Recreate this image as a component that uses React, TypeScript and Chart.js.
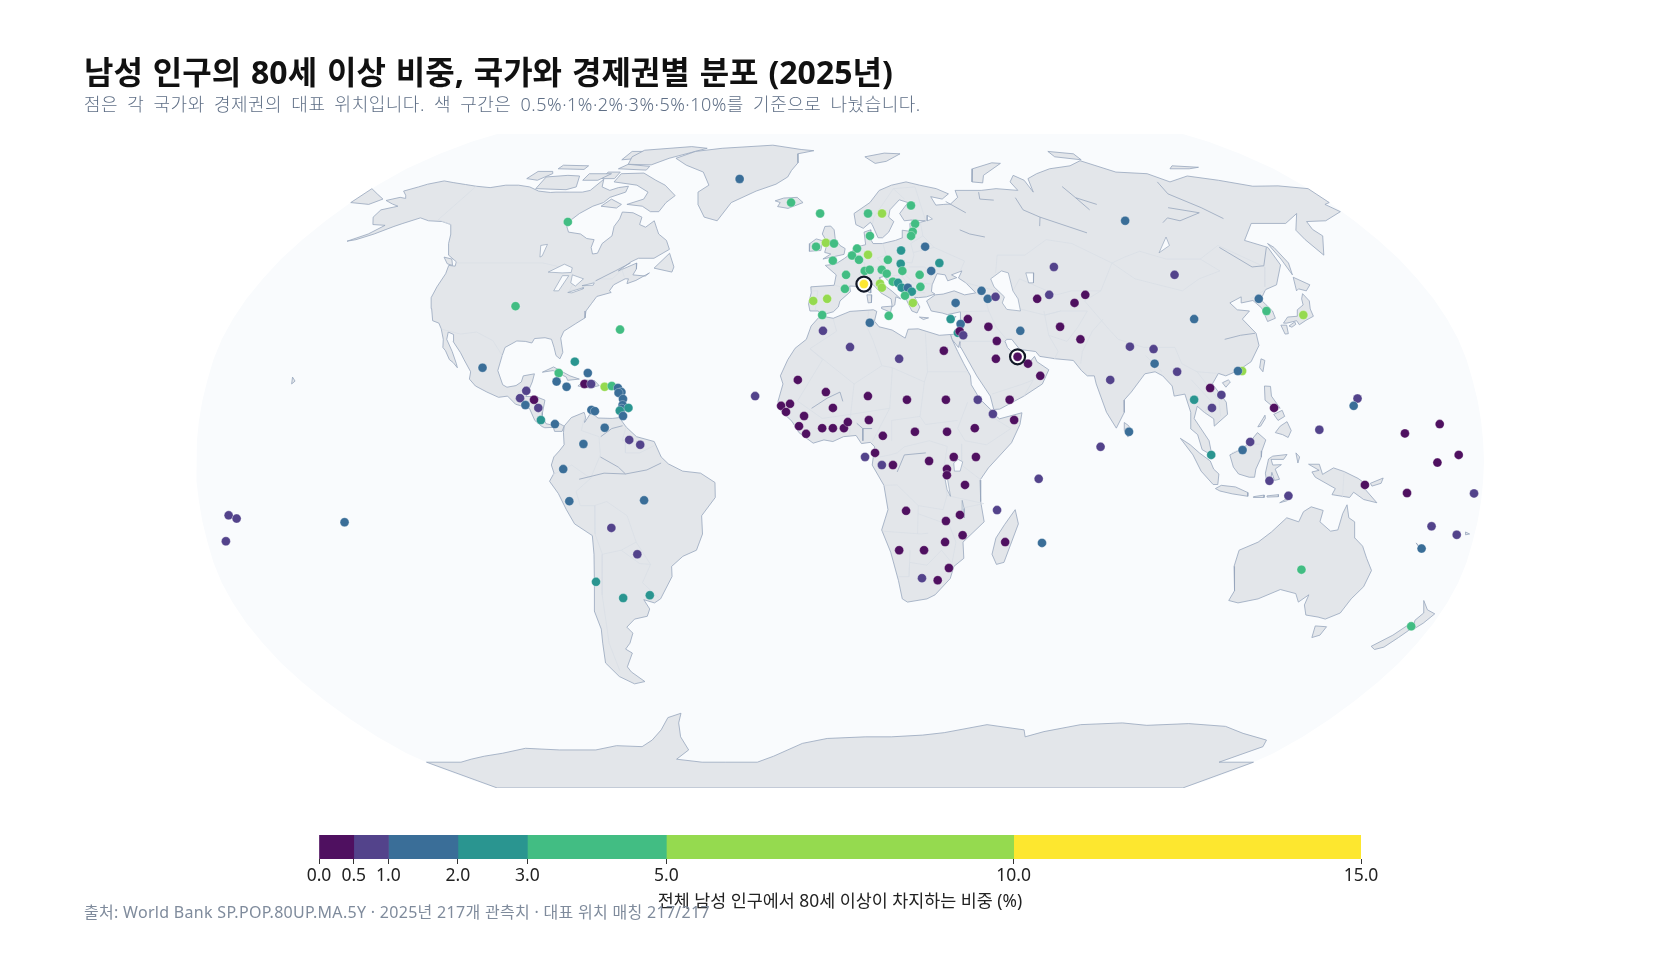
import { useEffect, useRef } from 'react';
import { Chart, registerables } from 'chart.js';

Chart.register(...registerables);

const FONT = '"Noto Sans", "Noto Sans CJK KR", sans-serif';

const BIN_EDGES = [0, 0.5, 1, 2, 3, 5, 10, 15];
const BIN_COLORS = ['#4f1060', '#53438b', '#3a6e98', '#2a9590', '#42bd83', '#95da4f', '#fde72f'];
const TICK_VALUES = [0, 0.5, 1, 2, 3, 5, 10, 15];

type Site = [string, number, number, number];

// name, lon, lat, share of men aged 80+ (%)
const AMERICAS: Site[] = [
  ['Canada', -95, 59.7, 3.6], ['United States', -97.6, 38.2, 3.2], ['Bermuda', -64.6, 32.4, 4.1],
  ['Greenland', -40, 71.9, 1.2], ['Mexico', -102.3, 23, 1.3], ['Bahamas', -76.1, 24.5, 2.1],
  ['Cuba', -80.3, 21.7, 3.3], ['Turks and Caicos', -72, 21.7, 1.4], ['Cayman Islands', -80.6, 19.6, 1.6],
  ['Jamaica', -77.6, 18.3, 1.9], ['Haiti', -72.6, 19, 0.4], ['Dominican Republic', -70.7, 19, 0.9],
  ['Puerto Rico', -66.8, 18.3, 5.2], ['US Virgin Islands', -64.8, 18.5, 4.2], ['St Martin', -63, 18, 1.6],
  ['Antigua', -61.9, 17, 1.5], ['St Kitts', -62.7, 16.8, 1.4], ['Dominica', -61.3, 15.3, 1.8],
  ['St Lucia', -61.3, 13.8, 1.6], ['St Vincent', -61.5, 12.9, 1.3], ['Barbados', -59.6, 13.1, 2.2],
  ['Grenada', -62, 12.4, 2.1], ['Trinidad', -61, 11.1, 1.5], ['Curacao', -70, 12.6, 1.9],
  ['Aruba', -69, 12.3, 1.9], ['Venezuela', -66, 8.2, 1.1], ['Guyana', -59, 5.2, 0.7],
  ['Suriname', -55.9, 4, 0.8], ['Colombia', -71.8, 4.2, 1.5], ['Ecuador', -77.4, -2, 1.6],
  ['Panama', -80, 9.1, 1.7], ['Costa Rica', -84, 10.1, 2.2], ['Nicaragua', -85, 13.1, 0.9],
  ['Honduras', -86.4, 15.1, 0.45], ['Belize', -88.9, 17.3, 0.7], ['Guatemala', -90.4, 15.5, 0.8],
  ['El Salvador', -88.7, 13.8, 1.3], ['Peru', -76, -9.9, 1.7], ['Brazil', -55, -9.7, 1.6],
  ['Bolivia', -64.7, -16.5, 0.9], ['Paraguay', -58, -23, 0.9], ['Chile', -71, -29.8, 2.4],
  ['Argentina', -64, -33.8, 2.1], ['Uruguay', -56, -33.1, 2.6],
];

const EUROPE: Site[] = [
  ['Iceland', -18, 65, 3.4], ['Faroe Islands', -7.1, 62, 4.2], ['Norway', 10, 62, 4.1],
  ['Sweden', 15, 62, 5.6], ['Finland', 25.9, 64.2, 4.6], ['Estonia', 26.1, 59.2, 3.4],
  ['Latvia', 24.8, 57.1, 3.1], ['Lithuania', 24, 56, 3.2], ['Denmark', 10.1, 56, 4.4],
  ['Isle of Man', -4.7, 54.2, 5.4], ['United Kingdom', -2, 54, 4.6], ['Ireland', -7.9, 53.2, 3.5],
  ['Netherlands', 5.6, 52.7, 4.6], ['Belgium', 3.9, 50.9, 4.6], ['Germany', 9.1, 51.1, 5.8],
  ['Luxembourg', 6.1, 49.8, 3.6], ['Channel Islands', -2.3, 49.6, 4.4], ['Poland', 20, 52.2, 2.5],
  ['Belarus', 28.1, 53.2, 1.7], ['Czechia', 15.4, 49.8, 3.4], ['Slovakia', 19.4, 48.8, 2.3],
  ['Hungary', 19.7, 47, 3.1], ['Ukraine', 31.8, 49, 2.2], ['Moldova', 28.8, 47, 1.5],
  ['Austria', 13.2, 47.3, 4.8], ['Liechtenstein', 7.8, 47, 4.2], ['Switzerland', 9.4, 47.3, 4.9],
  ['Slovenia', 14.7, 46.3, 3.8], ['France', 1.9, 46, 4.9], ['Croatia', 16.4, 44.3, 3.3],
  ['Bosnia and Herzegovina', 18, 44, 2.6], ['Romania', 25, 46, 3.1], ['Bulgaria', 24.8, 43, 3.2],
  ['Andorra', 1.5, 42.5, 4.4], ['San Marino', 12.4, 43.8, 6.2], ['Italy', 12.9, 42.8, 6.1],
  ['Montenegro', 19, 42.8, 2.4], ['Kosovo', 20.9, 42.8, 1.6], ['North Macedonia', 22, 41.8, 2.2],
  ['Albania', 19.8, 40.8, 3.2], ['Greece', 22, 39, 5.9], ['Portugal', -8.1, 39.5, 5.7],
  ['Spain', -3.9, 40, 5.6], ['Gibraltar', -5.3, 36, 3.6], ['Malta', 14.5, 35.8, 4.1],
  ['Georgia', 43.4, 42, 1.7], ['Armenia', 44.8, 40, 1.6], ['Azerbaijan', 47.3, 40.5, 0.9],
  ['Turkiye', 34.9, 39, 1.4], ['Cyprus', 32.8, 35, 2.3], ['Russia', 99.8, 60, 1.4],
];

const AFRICA: Site[] = [
  ['Morocco', -5, 32.1, 0.9], ['Tunisia', 8.8, 34.1, 1.3], ['Algeria', 2.9, 28.1, 0.8], ['Libya', 17, 25.2, 0.8],
  ['Egypt', 30, 27.2, 0.3], ['Mauritania', -12, 20, 0.3], ['Mali', -4, 17, 0.2],
  ['Niger', 7.9, 16, 0.2], ['Chad', 18.9, 15.1, 0.2], ['Sudan', 29.9, 15.1, 0.3], ['Eritrea', 38.9, 15.1, 0.6],
  ['Djibouti', 43, 11.6, 0.6], ['Somalia', 48.9, 10.1, 0.2], ['Cabo Verde', -24, 16, 0.8],
  ['Gambia', -16.6, 13.6, 0.2], ['Senegal', -14.1, 14.1, 0.3], ['Guinea-Bissau', -15.2, 12.1, 0.2],
  ['Guinea', -10.1, 11.1, 0.2], ['Sierra Leone', -11.5, 8.6, 0.2], ['Liberia', -9.5, 6.7, 0.2],
  ['Cote dIvoire', -5, 8.1, 0.2], ['Ghana', -2, 8.1, 0.3], ['Togo', 1.1, 8.1, 0.2], ['Benin', 2.2, 9.6, 0.2],
  ['Burkina Faso', -2, 13.1, 0.2], ['Nigeria', 8.1, 10.1, 0.2], ['Cameroon', 12, 6.2, 0.2],
  ['Equatorial Guinea', 9.8, 2, 0.3], ['Sao Tome', 7, 1, 0.6], ['Gabon', 11.7, -1, 0.7],
  ['Congo', 14.8, -1, 0.3], ['Central African Republic', 21, 7.2, 0.2], ['South Sudan', 30, 7.2, 0.2],
  ['Ethiopia', 37.8, 8.1, 0.3], ['DR Congo', 24.9, 0, 0.2], ['Uganda', 31.8, 1, 0.2], ['Kenya', 38, 1, 0.3],
  ['Rwanda', 29.9, -2, 0.3], ['Burundi', 29.9, -3.5, 0.2], ['Tanzania', 35, -5.9, 0.3], ['Angola', 18.6, -12.3, 0.2],
  ['Malawi', 33.8, -13.3, 0.2], ['Zambia', 29.9, -14.8, 0.2], ['Mozambique', 34.8, -18.3, 0.2],
  ['Zimbabwe', 29.9, -20, 0.3], ['Botswana', 24, -22, 0.3], ['Namibia', 16.9, -22, 0.3], ['Eswatini', 31.4, -26.4, 0.2],
  ['South Africa', 23.8, -28.9, 0.7], ['Lesotho', 28.4, -29.4, 0.3], ['Madagascar', 47, -20, 0.3],
  ['Comoros', 44.2, -12.1, 0.7], ['Seychelles', 55.6, -4.4, 0.9], ['Mauritius', 57.5, -20.2, 1.3],
];

const ASIA: Site[] = [
  ['Syria', 37.9, 35, 0.4], ['Lebanon', 35.6, 33.8, 1.6], ['Israel', 34.5, 31.6, 2.7], ['West Bank', 35.1, 32, 0.4],
  ['Jordan', 36, 31, 0.7], ['Iraq', 43.7, 33.1, 0.4], ['Iran', 52.9, 32.1, 1.3], ['Kuwait', 45.6, 29.6, 0.3],
  ['Saudi Arabia', 44.8, 25.2, 0.4], ['Bahrain', 51.2, 26, 0.3], ['UAE', 53.9, 24, 0.1], ['Oman', 57.1, 21, 0.3],
  ['Yemen', 47.9, 15.1, 0.2], ['Turkmenistan', 59.8, 40, 0.4], ['Uzbekistan', 63.8, 41, 0.7],
  ['Kazakhstan', 68, 48, 0.9], ['Kyrgyzstan', 74.8, 41, 0.4], ['Tajikistan', 70.8, 39, 0.3],
  ['Afghanistan', 64.8, 33.1, 0.2], ['Pakistan', 70, 30, 0.4], ['Nepal', 84, 28.2, 0.7], ['Bhutan', 90.7, 27.6, 0.8],
  ['Bangladesh', 90.2, 24, 1.1], ['India', 76.9, 20, 0.8], ['Myanmar', 96.3, 22, 0.6], ['Laos', 105, 18, 0.4],
  ['Vietnam', 107.9, 16.3, 0.9], ['Cambodia', 104.8, 13.1, 0.7], ['Thailand', 100, 15.1, 2.2],
  ['Hong Kong', 114.9, 22.2, 5.5], ['Macao', 113.7, 22.2, 1.9], ['China', 105, 35, 1.5], ['Mongolia', 105, 46, 0.6],
  ['North Korea', 127, 40, 1.2], ['South Korea', 127.6, 37, 3.4], ['Japan', 138, 36, 7.1],
  ['Philippines', 122.3, 13.1, 0.4], ['Brunei', 114.8, 4.7, 0.8], ['Malaysia', 112.6, 2.7, 1.1], ['Singapore', 103.8, 1.5, 2.5],
  ['Indonesia', 120.2, -4.9, 0.7], ['Timor-Leste', 125.8, -8.6, 0.8], ['Sri Lanka', 81, 7.2, 1.4], ['Maldives', 72.9, 3.5, 0.8],
];

const OCEANIA: Site[] = [
  ['Australia', 133.2, -26.8, 4.2], ['New Zealand', 174, -40.8, 3.6], ['Papua New Guinea', 147, -5.9, 0.2],
  ['Palau', 134.4, 7.7, 0.9], ['Northern Mariana', 146.2, 15.4, 0.8], ['Guam', 144.8, 13.6, 1.3],
  ['Micronesia', 158.3, 6.8, 0.4], ['Marshall Islands', 168.3, 9.1, 0.2], ['Kiribati', 173, 1.5, 0.3],
  ['Nauru', 167, -0.4, 0.2], ['Solomon Islands', 159, -7.9, 0.3], ['Tuvalu', 177.8, -8, 0.8],
  ['Vanuatu', 167.3, -16.1, 0.6], ['Fiji', 175, -18.2, 0.7], ['New Caledonia', 166, -21.6, 1.6],
  ['Samoa', -172.3, -13.4, 0.8], ['American Samoa', -170.2, -14.2, 0.7], ['Tonga', -174.7, -19.8, 0.8],
  ['French Polynesia', -139.9, -15.1, 1.4],
];

// sites that carry a ring: highest and lowest share
const HIGHLIGHTS: Site[] = [
  ['Monaco', 7.4, 43.7, 12.8],
  ['Qatar', 51.1, 25.7, 0.1],
];

type Ring = number[][];

const NORTH_AMERICA: Ring = [[-168.1,65.6],[-164.5,66.5],[-162,66.2],[-163.5,67.1],[-166.5,68.3],[-163,69.5],[-161,70.3],[-156.5,71.3],[-152,70.8],[-146,70.2],[-141,69.7],[-135,69.3],[-130,70],[-125,70],[-120,69.5],[-115,68.3],[-110,67.9],[-108,68],[-103,68],[-98,68],[-95.5,68.5],[-94,71.8],[-92,69.5],[-88,68.5],[-85.5,69.3],[-82,69.7],[-81.5,68],[-86,66.5],[-87,65],[-90,64],[-93,62],[-94.5,60],[-94.7,58.8],[-92.5,57],[-88,56.5],[-85,55.3],[-82.3,55],[-82,53],[-80.5,51.3],[-79,51.5],[-79,54],[-77,56],[-78,58.5],[-77.5,60.5],[-78,62.4],[-74,62.2],[-70,61],[-69.5,59],[-67,58.3],[-65,60],[-63,58],[-61.5,56.5],[-58,54.8],[-56,52.5],[-60,50.2],[-65,50.2],[-67,49.3],[-70,47],[-65,49],[-64.5,47.5],[-65,46],[-61,45.7],[-60,46.5],[-63.5,44.6],[-66,43.8],[-66,45],[-67,45],[-70,43.5],[-70.7,42],[-70,41.6],[-74,40.6],[-75,38.8],[-76,37],[-75.7,35.3],[-78,33.9],[-81,32],[-81.4,30.3],[-80,26.8],[-80.5,25.2],[-81.8,26],[-82.8,28],[-84,30],[-86,30.4],[-89,30.2],[-89.5,29.1],[-91.5,29.5],[-94,29.6],[-97,28],[-97.3,26],[-97.8,22.3],[-95.8,18.8],[-94.5,18.2],[-92,18.6],[-90.6,19.5],[-90.3,21],[-87.2,21.5],[-87.5,19.5],[-88.2,17.5],[-88.8,15.9],[-86,15.9],[-83.3,15],[-83.7,12],[-83.7,11],[-82.5,9.2],[-81,8.9],[-79.5,9.6],[-77.4,8.6],[-77.9,7.3],[-80,7.3],[-80.4,8.3],[-82.8,8.2],[-83.6,8.5],[-85.7,10],[-87.5,13],[-91.5,14],[-94,16],[-96.5,15.7],[-100,17],[-103.5,18.5],[-105.5,20.2],[-105.5,22],[-108,25],[-109.5,26.7],[-112.5,29.5],[-113,31.2],[-114.8,31.8],[-114.5,30],[-112,27],[-110,24],[-109.5,23],[-111,24.3],[-112.2,25],[-114,27.2],[-115,28],[-115.5,30],[-117.2,32.6],[-118.5,34],[-120.6,34.6],[-122.5,37.6],[-124.2,40.3],[-124.3,43],[-124,46.3],[-124.7,48.4],[-122.5,48.2],[-123,49.3],[-127,51],[-130,54],[-132,56.5],[-135,59],[-139,59.8],[-144,60],[-148,60.8],[-152,59.3],[-154,58.5],[-158,56.5],[-162,55],[-164.5,54.6],[-160,56.5],[-157.5,58.8],[-162,59],[-165,61],[-165.5,63],[-161,64],[-164,64.6],[-168.1,65.6]];
const SOUTH_AMERICA: Ring = [[-77.4,8.6],[-75.5,10.7],[-72,12],[-71.5,10.8],[-71.7,9.5],[-70,12],[-68,10.6],[-64,10.5],[-62,10.7],[-60,8.4],[-57,6],[-52,4.8],[-50,1],[-48,-0.7],[-44,-2.5],[-39,-3],[-35,-5.3],[-35,-9],[-39,-13.5],[-39,-18],[-41,-22],[-45,-23.5],[-48.5,-26],[-48.7,-28.5],[-53,-34],[-55,-35],[-58,-34.2],[-56.8,-36.5],[-58,-38.3],[-62,-39],[-65,-41],[-63.7,-42.5],[-65.5,-45],[-67.5,-46.5],[-65.8,-47.5],[-69,-51],[-68.4,-52.3],[-65.2,-54.8],[-69,-55.4],[-73,-53.5],[-75.5,-50],[-74,-45],[-73,-41.5],[-73.5,-37],[-71.5,-30],[-70.4,-23],[-70.3,-18.4],[-75,-15.5],[-77,-12],[-79,-8],[-81.3,-5],[-80,-3],[-80.7,-1],[-80,1],[-78.5,2.5],[-77.2,4],[-77.5,7],[-77.4,8.6]];
const AFRICA_LAND: Ring = [[-5.9,35.8],[-2,35.2],[3,36.9],[10,37.3],[11,36.9],[10.2,34.5],[11.5,33.1],[15.3,32.3],[19,30.3],[20,32.5],[23,32.6],[29,31],[32.3,31.2],[32.6,30],[34,27],[35.5,24],[37.2,21],[37.3,18.8],[39.5,15.3],[43.2,12],[43.3,11.5],[44.8,10.4],[51.2,11.9],[50.5,9],[48,4.5],[41.5,-1.7],[39.2,-4.7],[39.5,-10],[40.7,-15],[35,-20],[35.5,-24],[32.8,-26],[32,-29],[28,-33],[25.7,-34],[20,-34.8],[18.4,-34],[17,-29.5],[14.5,-22.5],[11.8,-17],[13.5,-12],[12.3,-6],[9,-1],[9.7,3.5],[8.5,4.6],[6,4.3],[4.5,6.3],[1,6],[-2,4.8],[-4.5,5.2],[-7.5,4.4],[-11.5,7],[-13.5,9.8],[-16.8,12.5],[-17.5,14.7],[-16.2,19],[-17,21],[-15,25],[-13,27.8],[-9.8,30],[-8.5,33.3],[-6.2,35.5],[-5.9,35.8]];
const EURASIA: Ring = [[-9,43],[-1.8,43.4],[-1.2,46],[-4.7,48.4],[-1.5,48.7],[1.5,50.2],[3.5,51.4],[4.8,53],[8.5,53.7],[8.2,57],[10.5,57.6],[10.3,55],[11,54],[14,54],[18.5,54.8],[21,55.5],[21.3,57.5],[24,57.2],[24.3,59.3],[28,59.6],[30,60],[25,60.2],[22.5,60],[21.3,62],[25,65],[22,65.8],[18,63],[17.2,61],[18.8,59.8],[16.6,57],[14.3,55.5],[12.8,55.5],[11.2,58.9],[10.6,59.6],[8,58],[5.5,59],[5,62],[11,65],[15,68.5],[20,70],[26,71],[31,70],[37,69],[41,67.5],[38,66],[34,66.7],[35,64.3],[38,64.5],[40.5,64.6],[44,66.5],[44,68.5],[54,68.5],[60,69],[68,68.5],[67,71],[70,73],[73,71.5],[73.5,68],[75,72],[80,73.5],[87,75],[97,76],[104,77.7],[113,74],[125,73.5],[130,71],[140,72.8],[150,71.5],[160,69.7],[170,69.8],[180,69],[180,65],[177.5,64.5],[179.5,62.5],[170,60],[163,59.8],[162,57.7],[163,56],[157,51],[155.7,55],[156,57.5],[163,62],[155,59.3],[143,59.3],[135.2,54.8],[141,53],[140.5,48.5],[135,43.5],[130.7,42.3],[127.5,39.8],[129.4,37],[129.2,35.2],[126.5,34.4],[126.6,37.7],[125,39.6],[121.2,39],[122,40.5],[117.7,39],[119,37.3],[122.5,37],[119.3,35],[121.8,31.5],[121.5,28.5],[118,24.5],[113.8,22.3],[110,21],[108,21.6],[105.8,19],[109,14.5],[109,11.5],[105,8.6],[105,10.4],[102.5,12],[100.7,13.5],[99.5,10.5],[103.3,5],[104,1.4],[101.3,2.8],[100.2,6.5],[98.3,8],[98.7,12],[97.6,16.5],[94.5,16],[94.3,18.5],[92,21],[90,22],[87,21.5],[82.5,17],[80.2,15],[80,12],[77.5,8.1],[75,12],[72.8,19],[72.5,21],[70.5,21],[69,22.3],[67,24.8],[62,25.2],[57.5,25.8],[56.5,27],[52,27.5],[50,30],[48.5,30],[48,29.5],[48.5,28],[50,26.5],[51.5,25.7],[51.3,24.6],[54,24],[56,25.8],[56.5,24.5],[59.7,22.5],[57.5,19],[52,16],[45,12.8],[43.3,12.7],[42.5,16],[39,21],[35,28],[34.9,29.5],[34.3,28],[32.6,30],[32.3,31.2],[34.3,31.3],[35.8,35],[36,36.8],[32,36.1],[30.5,36.5],[27.3,37],[26.2,39.5],[29,41],[31.5,41.2],[35,42],[38,41],[41.5,41.5],[39,44],[37,45.2],[38.5,47],[35,46],[36.5,45.3],[33.5,44.5],[33,46],[30.5,46.3],[28.5,43.5],[28,41.8],[29,41.2],[26.3,40.5],[23.8,40.3],[22.7,40.4],[24,38],[23,36.5],[21.5,37],[19.5,41],[19,42],[15,44.5],[13.7,45.6],[12.3,45.3],[12.4,44.2],[16,41.9],[18.4,40],[17,40.5],[16.5,38.5],[15.7,38],[15.5,40],[12.5,41.5],[10.3,43.5],[8.8,44.4],[6,43.1],[3,43.2],[3.2,41.8],[0,39.5],[-0.5,38],[-2,36.8],[-5.5,36],[-6.5,37],[-9,37],[-9.5,38.8],[-8.8,41.5],[-9,43]];
const GREENLAND: Ring = [[-72,78.5],[-66,81],[-55,82.3],[-32,83.6],[-18,81.8],[-12,81.3],[-19,80],[-18,77],[-20,74.5],[-21,72.5],[-25,70.3],[-32,68.3],[-40,65],[-43,60],[-48,61],[-52,64.5],[-54,68],[-51,70],[-56,74],[-65,76.2],[-72,78.5]];
const AUSTRALIA: Ring = [[114,-22],[113.5,-26],[115.7,-32],[115,-34.4],[118,-35],[123.5,-34],[129,-31.7],[134,-32.7],[135.8,-34.8],[138,-33],[138,-35.5],[140,-38],[144,-38.5],[146.5,-39],[150,-37.5],[151,-34],[153,-31],[153.5,-27],[151,-24],[149,-21],[146.3,-19],[145.3,-15],[143.5,-14],[142.5,-10.8],[141.6,-13],[141,-17],[139,-17.3],[135.5,-15],[136,-12.2],[132.5,-11.3],[130.5,-12.5],[129.5,-15],[126,-14],[122.3,-17.5],[119,-20],[114,-22]];
const ANTARCTICA: Ring = [[-180,-78],[-165,-78],[-158,-77],[-150,-76],[-140,-75],[-128,-73.5],[-115,-74],[-100,-74],[-90,-72.7],[-80,-73],[-74,-71],[-68,-68],[-63,-64.5],[-57.5,-63.3],[-60,-66],[-62,-70],[-62,-74],[-70,-77],[-60,-78],[-50,-78],[-36,-78],[-28,-76],[-15,-72],[-5,-70.5],[10,-70],[20,-70],[32,-69.5],[40,-68.8],[55,-66.5],[70,-68],[72,-70],[78,-68.5],[90,-66.5],[105,-66],[115,-66.7],[130,-66.2],[145,-67],[155,-69],[168,-71],[171,-73],[165,-78],[180,-78],[180,-90],[-180,-90],[-180,-78]];

const ISLANDS: Ring[] = [
  [[-73,71.5],[-68,70],[-62,67],[-64,65],[-65,62.5],[-68,62.5],[-72,64],[-78,64.5],[-73,66],[-73,68],[-79,70],[-89,71],[-89,73.5],[-80,73.7],[-73,71.5]],
  [[-117,69],[-105,68.7],[-102,69.5],[-105,72.8],[-110,73],[-118,72.5],[-117,69]],
  [[-125,72],[-120,71.5],[-117,73.5],[-118,74.2],[-124,74.2],[-125,72]],
  [[-90,76.5],[-80,76.3],[-75,78.5],[-62,82.3],[-70,83],[-90,81.5],[-92,79],[-90,76.5]],
  [[-92,75],[-80,74.6],[-80,75.8],[-90,76.5],[-92,75]],
  [[-117,75],[-106,74.8],[-106,76],[-117,76.2],[-117,75]],
  [[-95,78],[-88,78.5],[-88,81],[-95,81],[-95,78]],
  [[-102,71.5],[-96,71.5],[-93,73.5],[-102,73.5],[-102,71.5]],
  [[-95,72],[-90,72],[-90,74],[-95,74],[-95,72]],
  [[-87,64],[-81,63.5],[-80,64.5],[-85,66],[-87,64]],
  [[-59,47.7],[-53,46.7],[-52.8,48],[-55.5,51.5],[-59,47.7]],
  [[-128,50.5],[-125,50],[-123.5,48.4],[-125.5,48.8],[-128,50.5]],
  [[-85,21.9],[-82,23.2],[-77,21],[-74.2,20.2],[-77.5,19.9],[-78,20.7],[-82,22.3],[-85,21.9]],
  [[-74.4,18.5],[-72.7,20],[-69.8,19.8],[-68.4,18.6],[-71,18],[-74.4,18.5]],
  [[-78.3,18.3],[-76.3,18.2],[-77,17.8],[-78.3,18.3]],
  [[-67.2,18.5],[-65.7,18.4],[-66,18],[-67.2,18]],
  [[-24,65.5],[-21,66.3],[-16,66.5],[-13.6,65],[-18.8,63.4],[-22.7,63.9],[-22,65],[-24,65.5]],
  [[-5.5,50],[1.3,51.2],[1.7,52.7],[0,53.5],[-1.6,55.2],[-2,57.6],[-3.2,58.6],[-5.2,58.5],[-6,56.5],[-4.8,55],[-3,54],[-4.5,53.3],[-5,51.7],[-3,51.3],[-5.5,50]],
  [[-10,52],[-6.3,52.2],[-6,53.5],[-5.6,54.7],[-8,55.2],[-10,54],[-10,52]],
  [[11,79],[20,80.3],[27,80],[20,77.5],[15,76.8],[11,79]],
  [[52,71],[56,70.7],[58,73],[68.5,76.8],[65,77],[55,75],[52,71]],
  [[95,79],[105,78],[105,80],[95,81],[95,79]],
  [[137,75],[145,75],[150,75.5],[140,76],[137,75]],
  [[-180,65],[-172.5,64.5],[-170,66],[-175,67.5],[-180,69],[-180,65]],
  [[142,46],[143.5,49],[143,53],[142,54],[142,50],[142,46]],
  [[140,42],[141.7,45.4],[145.3,43.5],[143,42],[141,42.5],[140,42]],
  [[131,34],[133,35.5],[136,35.7],[137,37.3],[139.5,38.5],[140,40],[141.3,41.3],[142,39.5],[141,37.5],[140.8,35.7],[138,34.7],[135.5,33.6],[135.2,34.6],[132,34],[131,34]],
  [[130,33.5],[131.7,33.5],[131.2,31.4],[130.2,31.3],[130,33.5]],
  [[132.3,33.3],[134.5,34.3],[134.5,33.7],[133,33],[132.3,33.3]],
  [[121,25.2],[122,24.8],[120.8,22],[120.1,23],[121,25.2]],
  [[108.7,19.3],[110.5,20],[111,19.5],[109.5,18.2],[108.7,19.3]],
  [[120.5,18.5],[122.2,18.4],[122,16],[124,13],[121.5,13.8],[120,15],[120.5,18.5]],
  [[122,7],[123.5,8.6],[125.5,9.7],[126.5,7.5],[125.5,5.8],[124,6.5],[122,7]],
  [[122,11.5],[123,10],[125,11],[124.5,12.5],[122,11.5]],
  [[117.2,8.4],[119.5,11.3],[119.5,10.5],[118,8.6],[117.2,8.4]],
  [[109,1.5],[111.3,2.5],[113,3.3],[115,5],[117,7],[119.2,5.2],[118,2.5],[117.8,1],[116.3,-2],[116,-4],[114.5,-4],[111.5,-3.2],[110,-1.5],[109,1.5]],
  [[95.3,5.6],[98,4],[100.5,2],[103.5,0],[104.5,-2],[106,-3.2],[105.8,-5.8],[104.5,-5.8],[101,-2.5],[98.7,1.5],[95.3,5.6]],
  [[105.2,-6.8],[106.8,-6],[110.8,-6.4],[114.4,-7.8],[114.4,-8.7],[110,-8.1],[106.5,-7.4],[105.2,-6.8]],
  [[116,-8.8],[119,-8.4],[119,-9],[116,-9],[116,-8.8]],
  [[119.8,-8.6],[123,-8.3],[123,-8.8],[120,-8.9],[119.8,-8.6]],
  [[123.5,-10.3],[127,-8.4],[125.5,-9.8],[123.5,-10.3]],
  [[119.5,-5.5],[119,-3],[119.8,0.5],[121,1.2],[125,1.6],[124,0.4],[120.5,0.4],[121,-1],[123.4,-0.9],[121.7,-2],[123,-4.5],[121.6,-4.8],[120.8,-2.8],[120.4,-5.5],[119.5,-5.5]],
  [[131,-0.8],[134,-0.8],[135,-3.3],[138,-1.7],[141,-2.6],[145,-4.3],[147.8,-6],[147.2,-7],[150.8,-10.3],[147,-9.5],[144,-7.7],[143,-9],[138,-8.3],[138.8,-6.8],[133,-4],[132,-2.7],[134,-2.3],[131,-0.8]],
  [[127.5,2],[128,-0.5],[128.5,1],[127.5,2]],
  [[148.5,-5.5],[152,-4.2],[151.5,-5.5],[149,-6.2],[148.5,-5.5]],
  [[49.3,-12],[50.4,-15.5],[47.1,-25],[45,-25.5],[43.5,-23],[44.3,-19],[46.5,-15.7],[49.3,-12]],
  [[79.8,9.5],[81,8.7],[81.9,7],[80.6,5.9],[79.8,7.5],[79.8,9.5]],
  [[144.7,-40.7],[148.3,-40.9],[148,-43],[146,-43.6],[144.7,-40.7]],
  [[172.7,-34.4],[175.5,-36.7],[178.5,-37.7],[176.9,-40],[175.3,-41.6],[173.8,-39.3],[175,-37.5],[172.7,-34.4]],
  [[172.7,-40.5],[174.3,-41.7],[172.8,-43.6],[170.7,-46],[168.4,-46.6],[166.5,-45.8],[170.5,-43],[172.7,-40.5]],
  [[164,-20.2],[167,-22.3],[166,-22],[164,-20.2]],
  [[12.5,38],[15.6,38.2],[15.1,36.7],[12.5,37.6],[12.5,38]],
  [[8.2,41],[9.7,41],[9.5,39.1],[8.5,39],[8.2,41]],
  [[8.6,42.5],[9.4,43],[9.4,41.5],[8.8,41.6],[8.6,42.5]],
  [[23.6,35.5],[26.3,35.3],[24.7,34.9],[23.6,35.5]],
  [[32.4,35],[34.5,35.7],[33.6,34.8],[32.4,35]],
  [[-156,20.7],[-155,19.7],[-155.8,19],[-156,20.7]],
  [[177.3,-17.5],[178.6,-18],[177.5,-18.2],[177.3,-17.5]],
];

const LAKES: Ring[] = [
  [[-92,46.7],[-88,48.7],[-85,47.8],[-84.7,46.6],[-87.5,46.5],[-92,46.7]],
  [[-87.8,42],[-86.3,42],[-85,45.8],[-87,45.8],[-87.8,42]],
  [[-84,46],[-80,45],[-81.7,43.2],[-83.5,44],[-84,46]],
  [[-83.3,41.6],[-79,42.8],[-79,42.5],[-82,41.5],[-83.3,41.6]],
  [[-79.7,43.3],[-76.2,44],[-76.3,43.4],[-79.7,43.3]],
  [[-99,53.5],[-97,53.8],[-96.5,50.8],[-97,50.5],[-99,53.5]],
  [[47,45],[51,47],[53,46.5],[53,42],[54,40],[54,37],[50,37.4],[49,39],[50,40.5],[47.5,43],[47,45]],
  [[58.5,46.5],[61,46.5],[60,44],[58.5,44],[58.5,46.5]],
  [[104,51.6],[109.8,55.7],[109,53.5],[104,51.6]],
  [[31.8,-0.5],[33,0.4],[34.3,-0.2],[33.6,-2.5],[32,-2.5],[31.8,-0.5]],
  [[29.2,-3.5],[30,-4],[31,-8.7],[30,-7],[29.2,-3.5]],
  [[34.3,-9.7],[34.9,-11.7],[35,-14],[34.4,-13],[34.3,-9.7]],
  [[30.5,60],[32.5,60.5],[31,61.5],[30.5,60]],
];

const BORDERS: Ring[] = [
  [[-123,49],[-95,49],[-89,48],[-84.5,46.5],[-82.5,45],[-83,42],[-79,43],[-75,45],[-71,45],[-69,47.3],[-67.5,45.5]],
  [[-141,69.7],[-141,60.3],[-135,59]],
  [[-117,32.5],[-111,31.3],[-106.5,31.8],[-101,29.7],[-97.2,25.9]],
  [[-92,14.6],[-91,17],[-89,17.8],[-88.3,18]],
  [[-71.7,11.5],[-72.5,7.5],[-67.5,6],[-67,1.5]],
  [[-67,1.5],[-69.8,-4.3],[-74,-7.5],[-73,-11],[-69,-11],[-65.5,-10],[-60,-13.5],[-58,-20],[-54.5,-25.5],[-57.5,-30],[-53.5,-33.8]],
  [[-60,5],[-60,2],[-56,2],[-52,3.8]],
  [[-80.3,-3.4],[-75,-1],[-69.8,-4.3]],
  [[-69.5,-18],[-68,-23],[-70,-33],[-72,-45],[-72,-52]],
  [[-69,-11],[-69.5,-18]],
  [[-68,-23],[-62.5,-22],[-58,-20]],
  [[-62.5,-22],[-57.6,-25.3],[-54.5,-25.5]],
  [[-60,8.4],[-61,5],[-60,5]],
  [[-8.7,27.7],[-1,32],[-2,35]],
  [[-8.7,27.7],[4,19],[12,23.5],[9.5,30],[8,33],[8.5,36.9]],
  [[12,23.5],[15,23],[24,19.5],[25,22],[25,31.5]],
  [[25,22],[36.8,22]],
  [[24,19.5],[22.5,11],[24,9],[33,10]],
  [[4,19],[3,11.5],[14,13],[15,23]],
  [[-12,14.8],[-5,25],[-8.7,27.7]],
  [[-12,14.8],[-5,10.5],[3,11.5]],
  [[3,11.5],[2.7,6.3]],
  [[14,13],[9,4.7]],
  [[14.5,5],[14.5,10],[22.5,11]],
  [[12.2,-6],[16,-5.9],[22,-11],[29,-12],[30,-8.5],[29,-2],[30,3.6],[25,5],[18,3.5],[16,2],[14,1.5],[11,1]],
  [[36,14.5],[33,8],[35,5],[41,4],[47.9,8],[42.5,11]],
  [[34,4.2],[34,-1],[39.5,-4.7]],
  [[30,-1],[34,-1]],
  [[30,-8.5],[40.4,-10.5]],
  [[40.4,-10.5],[35,-11.5],[30.5,-15],[33,-20],[32,-26.5]],
  [[17,-28.5],[20,-28.5],[20,-25],[25,-25.7],[29,-22],[32,-25]],
  [[12,-17.3],[23,-18],[25,-17.8]],
  [[20,-22],[20,-28.5]],
  [[22,-11],[22,-18]],
  [[22,-13],[30,-15.5]],
  [[-1.8,43.4],[3,42.5]],
  [[-8.8,42],[-6.8,42],[-7.4,37.2]],
  [[2.5,51],[6,49.5],[8,49],[7.5,47.6],[6,46.2],[7.5,44]],
  [[14.2,54],[15,51],[12,50.3],[13.8,48.7],[10,47.5]],
  [[6,51],[7,53.5]],
  [[18,49.5],[23,49],[24,51],[23.5,54]],
  [[23.5,54],[28,56],[31,53],[24,51.7]],
  [[31,53],[40,49.5],[38,47]],
  [[22,48],[27,48],[28.5,45.3]],
  [[20.5,46],[22.8,44],[28.5,43.7]],
  [[13.7,45.5],[19,46],[22.8,42],[26,41.5]],
  [[28,56],[28,59.5]],
  [[30,60],[29,69.5],[20.5,69],[24,66]],
  [[20.5,69],[12,61],[11.2,59]],
  [[36,36.8],[44.5,37],[44,40],[41.5,41.5]],
  [[39,44],[48,42]],
  [[44.5,37],[46,33],[48.5,30]],
  [[61,37],[61,31],[63,27],[61.5,25]],
  [[49,46.5],[51,51],[60,51],[69,55],[77,54],[87,49]],
  [[87,49],[92,45],[105,42],[112,45],[120,47],[116,50],[105,50],[98,52],[92,50.5],[87,49]],
  [[116,50],[125,53.5],[135,48],[131,43]],
  [[87,49],[80,42],[74,39.5],[79,32.5],[81,30],[88,28],[97,28],[98,24],[102,22],[108,21.6]],
  [[78,35],[74,32],[70,27],[69,24]],
  [[61,31],[66,29.5],[70,33],[74,37],[66,37],[61,36]],
  [[53,42],[56,45],[66,41],[71,42],[80,42]],
  [[54,37.5],[61,36],[66,37]],
  [[35,29.5],[47.5,29.5],[48,29]],
  [[43,16.5],[52,19],[55,20],[52,16]],
  [[88,26],[92,22]],
  [[102,22],[107,15],[107,11]],
  [[100,20],[105,14.5],[102.5,12]],
  [[124.5,40],[130.7,42.3]],
  [[126.6,37.8],[128.5,38.6]],
  [[141,-2.6],[141,-9]],
  [[109.6,2],[115,4],[117.5,4.2]],
];

const RIVERS: Ring[] = [
  [[-73,-4.5],[-66,-3],[-60,-3.2],[-54,-2.2],[-50,-0.5]],
  [[-67,1],[-62,-1.5],[-60,-3.2]],
  [[-67,6],[-64,8],[-61,8.7]],
  [[-8,13],[-3.6,15.5],[0,17],[0.8,14.7]],
  [[4.7,9.3],[6.4,8],[6.4,5]],
  [[6.4,8],[9,8]],
  [[24,2],[18,1.5],[16,-2.7]],
  [[65.5,66.4],[66,63],[70.7,61],[84,56.8]],
  [[70.7,61],[69,58.6]],
  [[86,69.6],[88,66.4],[90,63]],
  [[88,66.4],[94,64.5]],
  [[125,71],[124,67.5],[131,63.6],[135,60.6]],
  [[112.5,59.5],[115.5,60.8],[119,60],[128.5,62.2],[119,63.6]],
  [[41,57.6],[44,56.5],[48.8,55.7]],
  [[39,65.3],[45,62.2]],
  [[52.7,68],[52,66],[57,65.7]],
  [[125,53],[131,48],[135,48.3],[140.5,53]],
  [[112,30],[117,31],[121.5,31.5]],
  [[-76,44.5],[-71,47],[-67,49]],
];

// Robinson projection tables, one row every 5 degrees of latitude
const ROBINSON_LATS = [0, 5, 10, 15, 20, 25, 30, 35, 40, 45, 50, 55, 60, 65, 70, 75, 80, 85, 90];
const ROBINSON_LEN = [1, 0.9986, 0.9954, 0.99, 0.9822, 0.973, 0.96, 0.9427, 0.9216, 0.8962, 0.8679, 0.835, 0.7986, 0.7597, 0.7186, 0.6732, 0.6213, 0.5722, 0.5322];
const ROBINSON_DFE = [0, 0.062, 0.124, 0.186, 0.248, 0.31, 0.372, 0.434, 0.4958, 0.5571, 0.6176, 0.6769, 0.7346, 0.7903, 0.8435, 0.8936, 0.9394, 0.9761, 1];

const OCEAN = '#f9fbfd';
const LAND = '#e3e6ea';
const COAST = '#97a6bc';
const BORDER = '#d9dee5';

function project(lon: number, lat: number) {
  const a = Math.min(Math.abs(lat), 89.999);
  const i = Math.floor(a / 5);
  const t = a / 5 - i;
  const len = ROBINSON_LEN[i] + (ROBINSON_LEN[i + 1] - ROBINSON_LEN[i]) * t;
  const dfe = ROBINSON_DFE[i] + (ROBINSON_DFE[i + 1] - ROBINSON_DFE[i]) * t;
  return { x: (lon / 180) * len, y: Math.sign(lat) * dfe };
}

function binColor(v: number) {
  for (let i = 1; i < BIN_EDGES.length; i++) {
    if (v <= BIN_EDGES[i]) return BIN_COLORS[i - 1];
  }
  return BIN_COLORS[BIN_COLORS.length - 1];
}

const polygon = (ring: Ring, fill: string, stroke: string, width: number, order: number) => ({
  type: 'scatter',
  data: ring.map(([lon, lat]) => project(lon, lat)),
  showLine: true,
  fill: 'shape',
  backgroundColor: fill,
  borderColor: stroke,
  borderWidth: width,
  pointRadius: 0,
  tension: 0,
  order,
});

const polyline = (ring: Ring, stroke: string, width: number, order: number) => ({
  type: 'scatter',
  data: ring.map(([lon, lat]) => project(lon, lat)),
  showLine: true,
  fill: false,
  borderColor: stroke,
  borderWidth: width,
  pointRadius: 0,
  tension: 0,
  order,
});

const sites = (list: Site[], radius: number, order: number) => ({
  type: 'scatter',
  data: list.map(([, lon, lat]) => project(lon, lat)),
  showLine: false,
  pointRadius: radius,
  pointBackgroundColor: list.map((s) => binColor(s[3])),
  pointBorderColor: 'rgba(255,255,255,0.6)',
  pointBorderWidth: 0.5,
  order,
});

function WorldMap() {
  const ref = useRef<HTMLCanvasElement | null>(null);
  useEffect(() => {
    if (!ref.current) return undefined;
    const lats = [...[...ROBINSON_LATS].reverse().map((l) => -l), ...ROBINSON_LATS.slice(1)];
    const sphere = [
      ...lats.map((lat) => project(180, lat)),
      ...[...lats].reverse().map((lat) => project(-180, lat)),
    ];
    const lands = [NORTH_AMERICA, SOUTH_AMERICA, AFRICA_LAND, EURASIA, GREENLAND, AUSTRALIA, ANTARCTICA, ...ISLANDS];
    const chart = new Chart(ref.current, {
      type: 'scatter',
      data: {
        datasets: [
          { type: 'scatter', data: sphere, showLine: true, fill: 'shape', backgroundColor: OCEAN, borderWidth: 0, pointRadius: 0, order: 20 },
          ...lands.map((r) => polygon(r, LAND, COAST, 0.8, 15)),
          ...BORDERS.map((r) => polyline(r, BORDER, 0.7, 12)),
          ...LAKES.map((r) => polygon(r, OCEAN, COAST, 0.7, 11)),
          ...RIVERS.map((r) => polyline(r, COAST, 0.8, 10)),
          sites([...AFRICA, ...ASIA, ...OCEANIA, ...AMERICAS, ...EUROPE], 4.5, 5),
          {
            type: 'scatter',
            data: HIGHLIGHTS.map(([, lon, lat]) => project(lon, lat)),
            pointRadius: 7.5,
            pointBackgroundColor: '#ffffff',
            pointBorderColor: '#111827',
            pointBorderWidth: 2.2,
            order: 3,
          },
          sites(HIGHLIGHTS, 4.5, 2),
        ] as any,
      },
      options: {
        animation: false,
        responsive: false,
        events: [],
        layout: { padding: { left: 196, right: 196, top: 134, bottom: 172 } },
        plugins: { legend: { display: false }, tooltip: { enabled: false } },
        scales: {
          x: { type: 'linear', display: false, min: -1, max: 1 },
          y: { type: 'linear', display: false, min: -1, max: 1 },
        },
      },
    });
    return () => chart.destroy();
  }, []);
  return <canvas ref={ref} width={1680} height={960} style={{ position: 'absolute', left: 0, top: 0 }} />;
}

function ColorBar() {
  const ref = useRef<HTMLCanvasElement | null>(null);
  useEffect(() => {
    if (!ref.current) return undefined;
    const chart = new Chart(ref.current, {
      type: 'bar',
      data: {
        labels: [''],
        datasets: BIN_COLORS.map((color, i) => ({
          data: [[BIN_EDGES[i], BIN_EDGES[i + 1]]],
          backgroundColor: color,
          grouped: false,
          barPercentage: 1,
          categoryPercentage: 1,
        })) as any,
      },
      options: {
        indexAxis: 'y',
        animation: false,
        responsive: false,
        events: [],
        layout: { padding: { left: 39, right: 39, top: 15, bottom: 0 } },
        plugins: { legend: { display: false }, tooltip: { enabled: false } },
        scales: {
          y: { display: false },
          x: {
            type: 'linear',
            min: 0,
            max: 15,
            border: { display: false },
            grid: { drawOnChartArea: false, drawTicks: true, tickLength: 5, color: '#333333', lineWidth: 1 },
            afterBuildTicks: (axis: any) => {
              axis.ticks = TICK_VALUES.map((value) => ({ value }));
            },
            afterFit: (axis: any) => {
              axis.height = 71;
            },
            ticks: {
              autoSkip: false,
              maxRotation: 0,
              padding: 2,
              color: '#222222',
              font: { family: FONT, size: 17.5 },
              callback: (v: any) => Number(v).toFixed(1),
            },
            title: {
              display: true,
              text: '전체 남성 인구에서 80세 이상이 차지하는 비중 (%)',
              color: '#222222',
              font: { family: FONT, size: 17.4 },
              padding: { top: 0, bottom: 18 },
            },
          },
        },
      },
    });
    return () => chart.destroy();
  }, []);
  return <canvas ref={ref} width={1120} height={110} style={{ position: 'absolute', left: 280, top: 820 }} />;
}

const textBase = { position: 'absolute', left: 84, whiteSpace: 'nowrap', fontFamily: FONT } as const;

export default function App() {
  return (
    <div style={{ position: 'fixed', inset: 0, background: '#ffffff', overflow: 'hidden' }}>
      <WorldMap />
      <ColorBar />
      <div style={{ ...textBase, top: 47, fontSize: 32, fontWeight: 700, wordSpacing: 1.6, color: '#111111' }}>
        남성 인구의 80세 이상 비중, 국가와 경제권별 분포 (2025년)
      </div>
      <div style={{ ...textBase, top: 90, fontSize: 18, fontWeight: 300, wordSpacing: 4, letterSpacing: 0.5, color: '#5f6f86' }}>
        점은 각 국가와 경제권의 대표 위치입니다. 색 구간은 0.5%·1%·2%·3%·5%·10%를 기준으로 나눴습니다.
      </div>
      <div style={{ ...textBase, top: 899, fontSize: 16, fontWeight: 400, letterSpacing: 0.3, color: '#7f8b9c' }}>
        출처: World Bank SP.POP.80UP.MA.5Y · 2025년 217개 관측치 · 대표 위치 매칭 217/217
      </div>
    </div>
  );
}
